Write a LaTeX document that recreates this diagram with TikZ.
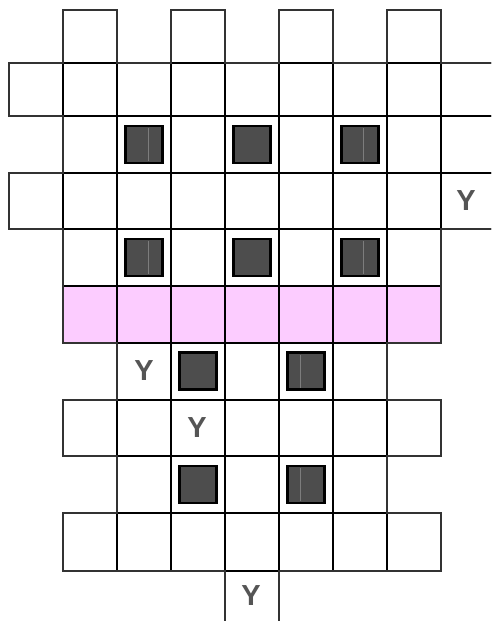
\documentclass[tikz,border=0pt]{standalone}
\usepackage{fontspec}
\setsansfont{Liberation Sans}
\definecolor{pinkfill}{RGB}{252,204,255}
\definecolor{edgegray}{RGB}{51,51,51}
\definecolor{blockfill}{RGB}{77,77,77}
\definecolor{labelgray}{RGB}{85,85,85}
\definecolor{seam}{RGB}{125,125,125}
\tikzset{
  gridline/.style={draw=black, line width=2pt},
  outerline/.style={draw=edgegray, line width=2.6pt, line join=miter},
  block/.style={draw=black, fill=blockfill, line width=2.6pt, minimum width=36.5pt, minimum height=37pt, inner sep=0pt},
  letter/.style={text=labelgray, font=\sffamily\bfseries\fontsize{29}{29}\selectfont, inner sep=0pt},
  seamline/.style={draw=seam, line width=0.8pt}
}
\begin{document}
\begin{tikzpicture}[x=1pt,y=-1pt]
\useasboundingbox (0,0) rectangle (491,621);
\clip (0,0) rectangle (491,621);
\fill[white] (0,0) rectangle (491,621);
% pink band
\fill[pinkfill] (63,286) rectangle (441,343);
% cells
\foreach \ya/\yb/\cs in {10/63/{1,3,5,7}, 63/116/{0,1,2,3,4,5,6,7,8}, 116/173/{1,2,3,4,5,6,7,8}, 173/229/{0,1,2,3,4,5,6,7,8}, 229/286/{1,2,3,4,5,6,7}, 286/343/{1,2,3,4,5,6,7}, 343/400/{2,3,4,5,6}, 400/456/{1,2,3,4,5,6,7}, 456/513/{2,3,4,5,6}, 513/571/{1,2,3,4,5,6,7}, 571/628/{4}}{
  \foreach \c in \cs {
    \draw[gridline] ({9+54*\c},\ya) rectangle ({63+54*\c},\yb);
  }
}
% outer boundary
\draw[outerline] (63,10) -- (117,10) -- (117,63) -- (171,63) -- (171,10) -- (225,10) -- (225,63) -- (279,63) -- (279,10) -- (333,10) -- (333,63) -- (387,63) -- (387,10) -- (441,10) -- (441,63) -- (495,63) -- (495,229) -- (441,229) -- (441,343) -- (387,343) -- (387,400) -- (441,400) -- (441,456) -- (387,456) -- (387,513) -- (441,513) -- (441,571) -- (279,571) -- (279,628) -- (225,628) -- (225,571) -- (63,571) -- (63,513) -- (117,513) -- (117,456) -- (63,456) -- (63,400) -- (117,400) -- (117,343) -- (63,343) -- (63,229) -- (9,229) -- (9,173) -- (63,173) -- (63,116) -- (9,116) -- (9,63) -- (63,63) -- cycle;
% dark blocks
\node[block] (b1) at (144,144.5) {};
\node[block] (b2) at (252,144.5) {};
\node[block] (b3) at (360,144.5) {};
\node[block] (b4) at (144,257.5) {};
\node[block] (b5) at (252,257.5) {};
\node[block] (b6) at (360,257.5) {};
\node[block] (b7) at (198,371) {};
\node[block] (b8) at (306,371) {};
\node[block] (b9) at (198,484.5) {};
\node[block] (b10) at (306,484.5) {};
% faint seams inside some blocks
\draw[seamline] ([xshift=4.3pt,yshift=-16.5pt]b1.center) -- ([xshift=4.3pt,yshift=16.5pt]b1.center);
\draw[seamline] ([xshift=3.3pt,yshift=-16.5pt]b3.center) -- ([xshift=3.3pt,yshift=16.5pt]b3.center);
\draw[seamline] ([xshift=4.3pt,yshift=-16.5pt]b4.center) -- ([xshift=4.3pt,yshift=16.5pt]b4.center);
\draw[seamline] ([xshift=3.3pt,yshift=-16.5pt]b6.center) -- ([xshift=3.3pt,yshift=16.5pt]b6.center);
\draw[seamline] ([xshift=-6pt,yshift=-16.5pt]b8.center) -- ([xshift=-6pt,yshift=16.5pt]b8.center);
\draw[seamline] ([xshift=-5.5pt,yshift=-16.5pt]b10.center) -- ([xshift=-5.5pt,yshift=16.5pt]b10.center);
% labels
\node[letter] (y1) at (466,200.5) {Y};
\node[letter] (y2) at (144,370.5) {Y};
\node[letter] (y3) at (197,428) {Y};
\node[letter] (y4) at (251,596) {Y};
\end{tikzpicture}
\end{document}
